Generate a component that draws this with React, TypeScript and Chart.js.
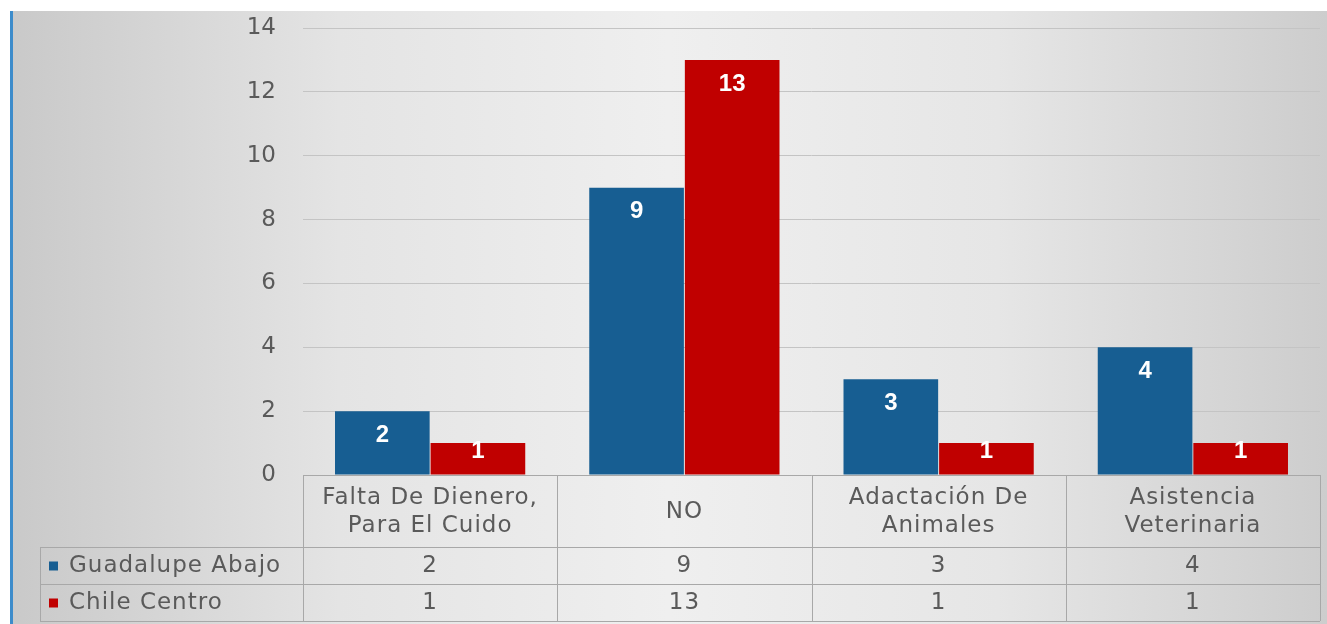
import React, { useEffect, useRef } from "react";
import { Chart, registerables } from "chart.js";

Chart.register(...registerables);

const categories: string[][] = [
  ["Falta De Dienero,", "Para El Cuido"],
  ["NO"],
  ["Adactación De", "Animales"],
  ["Asistencia", "Veterinaria"],
];
const seriesNames = ["Guadalupe Abajo", "Chile Centro"];
const guadalupeAbajo = [2, 9, 3, 4];
const chileCentro = [1, 13, 1, 1];
const yMax = 14;
const yStep = 2;

const seriesColors = ["#175E92", "#C00000"];
const FONT = '"DejaVu Sans", sans-serif';
const TEXT = "#5a5a5a";
const LINE = "#a8a8a8";

const backgroundPlugin = {
  id: "bgPlugin",
  beforeDraw(chart: any) {
    const { ctx, width, height } = chart;
    ctx.save();
    ctx.fillStyle = "#ffffff";
    ctx.fillRect(0, 0, width, height);
    const g = ctx.createLinearGradient(10, 0, width, 0);
    g.addColorStop(0, "#c9c9c9");
    g.addColorStop(0.25, "#e4e4e4");
    g.addColorStop(0.5, "#efefef");
    g.addColorStop(0.75, "#e6e6e6");
    g.addColorStop(1, "#cdcdcd");
    ctx.fillStyle = g;
    ctx.fillRect(10, 11, width - 10, height - 11);
    ctx.fillStyle = "#3d8ccb";
    ctx.fillRect(10, 11, 3, height - 11);
    ctx.restore();
  },
};

const tablePlugin = {
  id: "tablePlugin",
  afterDraw(chart: any) {
    const { ctx, chartArea } = chart;
    const left = chartArea.left;
    const right = chartArea.right;
    const n = categories.length;
    const colW = (right - left) / n;
    const y0 = chartArea.bottom;
    const y1 = y0 + 72;
    const y2 = y1 + 37;
    const y3 = y2 + 37;
    const tableLeft = 40;
    ctx.save();
    ctx.strokeStyle = LINE;
    ctx.lineWidth = 1;
    const hline = (x1: number, x2: number, y: number) => {
      ctx.beginPath();
      ctx.moveTo(x1, Math.round(y) + 0.5);
      ctx.lineTo(x2, Math.round(y) + 0.5);
      ctx.stroke();
    };
    const vline = (x: number, ya: number, yb: number) => {
      ctx.beginPath();
      ctx.moveTo(Math.round(x) + 0.5, ya);
      ctx.lineTo(Math.round(x) + 0.5, yb);
      ctx.stroke();
    };
    hline(left, right, y0);
    hline(tableLeft, right, y1);
    hline(tableLeft, right, y2);
    hline(tableLeft, right, y3);
    for (let i = 0; i <= n; i++) vline(left + i * colW, y0, y3);
    vline(tableLeft, y1, y3);

    ctx.fillStyle = TEXT;
    ctx.font = `23px ${FONT}`;
    (ctx as any).letterSpacing = "1px";
    ctx.textAlign = "center";
    ctx.textBaseline = "middle";
    const rows = [guadalupeAbajo, chileCentro];
    categories.forEach((lines, i) => {
      const cx = left + (i + 0.5) * colW;
      const lh = 28;
      const mid = y0 + 37;
      lines.forEach((t, k) => {
        ctx.fillText(t, cx, mid + (k - (lines.length - 1) / 2) * lh);
      });
      ctx.fillText(String(rows[0][i]), cx, (y1 + y2) / 2 + 1);
      ctx.fillText(String(rows[1][i]), cx, (y2 + y3) / 2 + 1);
    });
    ctx.textAlign = "left";
    seriesNames.forEach((name, k) => {
      const cy = k === 0 ? (y1 + y2) / 2 : (y2 + y3) / 2;
      ctx.fillStyle = seriesColors[k];
      ctx.fillRect(49, cy - 4, 9, 9);
      ctx.fillStyle = TEXT;
      ctx.fillText(name, 69, cy + 1);
    });
    ctx.restore();
  },
};

const labelPlugin = {
  id: "labelPlugin",
  afterDatasetsDraw(chart: any) {
    const { ctx } = chart;
    ctx.save();
    ctx.fillStyle = "#ffffff";
    ctx.font = `bold 24px "Liberation Sans", sans-serif`;
    ctx.textAlign = "center";
    ctx.textBaseline = "middle";
    chart.data.datasets.forEach((ds: any, di: number) => {
      const meta = chart.getDatasetMeta(di);
      meta.data.forEach((el: any, i: number) => {
        const h = el.base - el.y;
        const off = Math.min(24, h - 23);
        ctx.fillText(String(ds.data[i]), el.x, el.y + off);
      });
    });
    ctx.restore();
  },
};

export default function App() {
  const ref = useRef<HTMLCanvasElement | null>(null);
  useEffect(() => {
    document.body.style.margin = "0";
    const canvas = ref.current!;
    const chart = new Chart(canvas, {
      type: "bar",
      data: {
        labels: categories.map((c) => c.join(" ")),
        datasets: [
          {
            label: seriesNames[0],
            data: guadalupeAbajo,
            backgroundColor: seriesColors[0],
            barPercentage: 0.99,
            categoryPercentage: 0.752,
          },
          {
            label: seriesNames[1],
            data: chileCentro,
            backgroundColor: seriesColors[1],
            barPercentage: 0.99,
            categoryPercentage: 0.752,
          },
        ],
      },
      options: {
        animation: false,
        responsive: false,
        devicePixelRatio: 1,
        layout: { padding: { left: 0, right: 7, top: 28, bottom: 149 } },
        plugins: {
          legend: { display: false },
          tooltip: { enabled: false },
        },
        scales: {
          x: {
            grid: { display: false },
            ticks: { display: false },
            border: { display: false },
            afterFit: (s: any) => {
              s.height = 0;
            },
          },
          y: {
            min: 0,
            max: yMax,
            ticks: {
              stepSize: yStep,
              padding: 27,
              color: TEXT,
              font: { family: FONT, size: 23 },
            },
            grid: { color: "#c4c4c4", drawTicks: false },
            border: { display: false },
            afterFit: (s: any) => {
              s.width = 303;
              s.paddingTop = 0;
              s.paddingBottom = 0;
            },
          },
        },
      },
      plugins: [backgroundPlugin, tablePlugin, labelPlugin],
    });
    return () => chart.destroy();
  }, []);
  return (
    <canvas
      ref={ref}
      width={1327}
      height={624}
      style={{ display: "block", width: 1327, height: 624 }}
    />
  );
}
